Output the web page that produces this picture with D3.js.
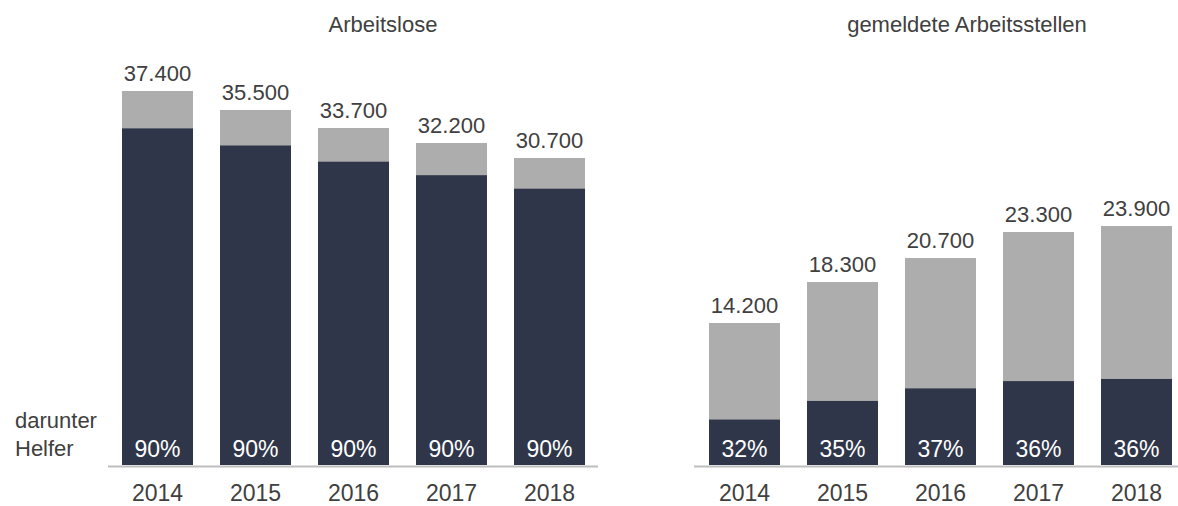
<!DOCTYPE html>
<html>
<head>
<meta charset="utf-8">
<script src="https://cdn.jsdelivr.net/npm/d3@7"></script>
<style>
  body { margin: 0; background: #fff; }
  svg text { font-family: "Liberation Sans", Arial, sans-serif; }
</style>
</head>
<body>
<script>
// data
const years = ["2014", "2015", "2016", "2017", "2018"];
const arbeitslose = [37400, 35500, 33700, 32200, 30700];
const arbeitsloseHelfer = [0.90, 0.90, 0.90, 0.90, 0.90];
const stellen = [14200, 18300, 20700, 23300, 23900];
const stellenHelfer = [0.32, 0.35, 0.37, 0.36, 0.36];

const W = 1178, H = 506;
const baseY = 465;
const dark = "#2f3649", light = "#adadad", textCol = "#404040";

const svg = d3.select("body").append("svg")
  .attr("width", W)
  .attr("height", H);

const y = d3.scaleLinear().domain([0, 37500]).range([baseY, 90]);

const fmt = d3.formatLocale({ decimal: ",", thousands: ".", grouping: [3], currency: ["", "€"] }).format(",");

function panel(title, titleX, totals, shares, range, lineRange) {
  const x = d3.scaleBand()
    .domain(years)
    .range(range)
    .paddingInner(0.2755)
    .paddingOuter(0.1378);

  const g = svg.append("g");

  g.append("text")
    .attr("x", titleX)
    .attr("y", 32)
    .attr("text-anchor", "middle")
    .attr("font-size", 22)
    .attr("fill", textCol)
    .text(title);

  const rows = years.map((yr, i) => ({ yr, total: totals[i], share: shares[i] }));

  // gesamt (grau)
  g.selectAll(".tot").data(rows).enter().append("rect")
    .attr("x", d => x(d.yr))
    .attr("width", x.bandwidth())
    .attr("y", d => y(d.total))
    .attr("height", d => baseY - y(d.total))
    .attr("fill", light);

  // darunter Helfer (dunkel)
  g.selectAll(".helf").data(rows).enter().append("rect")
    .attr("x", d => x(d.yr))
    .attr("width", x.bandwidth())
    .attr("y", d => y(d.total * d.share))
    .attr("height", d => baseY - y(d.total * d.share))
    .attr("fill", dark);

  g.selectAll(".val").data(rows).enter().append("text")
    .attr("x", d => x(d.yr) + x.bandwidth() / 2)
    .attr("y", d => y(d.total) - 10)
    .attr("text-anchor", "middle")
    .attr("font-size", 22)
    .attr("fill", textCol)
    .text(d => fmt(d.total));

  g.selectAll(".pct").data(rows).enter().append("text")
    .attr("x", d => x(d.yr) + x.bandwidth() / 2)
    .attr("y", baseY - 8)
    .attr("text-anchor", "middle")
    .attr("font-size", 23)
    .attr("fill", "#fff")
    .text(d => Math.round(d.share * 100) + "%");

  g.append("line")
    .attr("x1", lineRange[0]).attr("x2", lineRange[1])
    .attr("y1", baseY + 1.5).attr("y2", baseY + 1.5)
    .attr("stroke", "#bdbdbd")
    .attr("stroke-width", 2);

  const axis = d3.axisBottom(x).tickSize(0).tickPadding(0);
  const ax = g.append("g")
    .attr("transform", `translate(0,${baseY})`)
    .call(axis);
  ax.select(".domain").remove();
  ax.selectAll("text")
    .attr("dy", 0)
    .attr("y", 36)
    .attr("font-size", 23)
    .attr("font-family", "Liberation Sans, Arial, sans-serif")
    .attr("fill", textCol);
}

panel("Arbeitslose", 383, arbeitslose, arbeitsloseHelfer, [108.5, 598.5], [108, 598]);
panel("gemeldete Arbeitsstellen", 967, stellen, stellenHelfer, [695.5, 1185.5], [694, 1178]);

const side = svg.append("text")
  .attr("font-size", 22)
  .attr("fill", textCol);
side.append("tspan").attr("x", 15).attr("y", 428).text("darunter");
side.append("tspan").attr("x", 15).attr("y", 456).text("Helfer");
</script>
</body>
</html>
